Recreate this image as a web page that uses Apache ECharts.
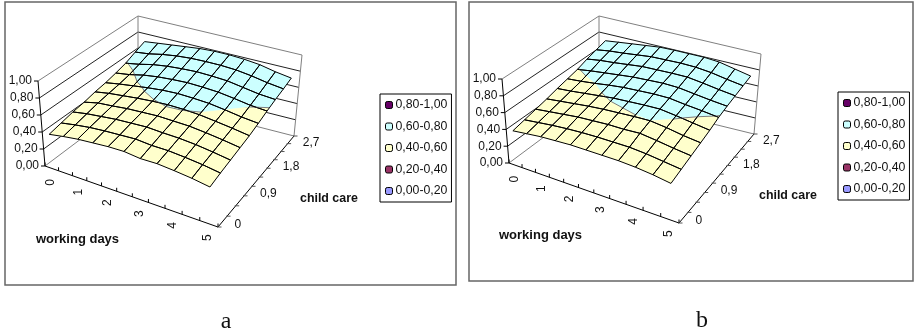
<!DOCTYPE html>
<html>
<head>
<meta charset="utf-8">
<style>html,body{margin:0;padding:0;background:#fff}#chart{width:914px;height:335px}</style>
<script src="https://cdn.jsdelivr.net/npm/echarts@6/dist/echarts.min.js"></script>
</head>
<body>
<div id="chart"></div>
<script>
// Axis categories and tick labels
const workingDays = ['0', '', '1', '', '2', '', '3', '', '4', '', '5'];
const childCare = ['0', '', '', '0,9', '', '', '1,8', '', '', '2,7'];
const valueTicks = [0, 0.2, 0.4, 0.6, 0.8, 1];
const valueLabels = ['0,00', '0,20', '0,40', '0,60', '0,80', '1,00'];
const bandLabels = ['0,80-1,00', '0,60-0,80', '0,40-0,60', '0,20-0,40', '0,00-0,20'];
const bandLimits = [[0.8, 1], [0.6, 0.8], [0.4, 0.6], [0.2, 0.4], [0, 0.2]];
const bandColors = ['#660066', '#CCFFFF', '#FFFFCC', '#993366', '#9999FF'];

// Surface heights: one list per working-days category, running along child care
const surfaceA = [
  [.40, .43, .46, .48, .51, .53, .56, .595, .65, .70],
  [.43, .46, .49, .52, .54, .56, .585, .625, .67, .72],
  [.455, .485, .51, .535, .56, .585, .625, .665, .705, .74],
  [.47, .50, .53, .555, .58, .61, .65, .69, .73, .76],
  [.485, .51, .54, .565, .595, .63, .665, .705, .745, .78],
  [.49, .52, .55, .575, .605, .64, .675, .715, .75, .79],
  [.47, .505, .54, .57, .603, .635, .67, .71, .75, .79],
  [.475, .505, .535, .565, .593, .625, .66, .70, .74, .78],
  [.46, .49, .52, .545, .57, .60, .635, .67, .715, .76],
  [.44, .47, .495, .52, .545, .57, .605, .64, .68, .72],
  [.41, .44, .465, .49, .515, .55, .59, .625, .655, .69]
];
const surfaceB = [
  [.41, .44, .47, .50, .535, .565, .595, .64, .675, .71],
  [.43, .46, .49, .52, .55, .58, .62, .665, .70, .73],
  [.45, .48, .51, .54, .57, .60, .64, .68, .715, .75],
  [.46, .495, .53, .56, .59, .625, .66, .70, .735, .77],
  [.47, .505, .54, .575, .61, .645, .68, .72, .755, .79],
  [.47, .51, .55, .585, .62, .655, .69, .725, .76, .795],
  [.47, .51, .55, .595, .63, .665, .70, .73, .765, .795],
  [.47, .51, .56, .60, .635, .665, .695, .73, .76, .795],
  [.46, .495, .535, .575, .61, .64, .67, .705, .74, .78],
  [.44, .47, .505, .54, .58, .62, .645, .675, .705, .74],
  [.41, .445, .48, .515, .55, .595, .625, .65, .675, .70]
];

// Unit square to quadrilateral perspective map
function quadMap(q) {
  const [p0, p1, p2, p3] = q;
  const dx1 = p1[0] - p2[0], dx2 = p3[0] - p2[0], sx = p0[0] - p1[0] + p2[0] - p3[0];
  const dy1 = p1[1] - p2[1], dy2 = p3[1] - p2[1], sy = p0[1] - p1[1] + p2[1] - p3[1];
  const d = dx1 * dy2 - dx2 * dy1;
  const g = (sx * dy2 - dx2 * sy) / d, h = (dx1 * sy - sx * dy1) / d;
  const a = p1[0] - p0[0] + g * p1[0], b = p3[0] - p0[0] + h * p3[0];
  const e = p1[1] - p0[1] + g * p1[1], f = p3[1] - p0[1] + h * p3[1];
  return (u, v) => {
    const w = g * u + h * v + 1;
    return [(a * u + b * v + p0[0]) / w, (e * u + f * v + p0[1]) / w];
  };
}

// A 3D box described by its floor and ceiling corners:
// front-left, front-right, back-right, back-left
function makeView(floor, top) {
  const fm = quadMap(floor), tm = quadMap(top);
  return (u, v, z) => {
    const a = fm(u, v), b = tm(u, v);
    return [a[0] + (b[0] - a[0]) * z, a[1] + (b[1] - a[1]) * z];
  };
}

const nX = workingDays.length, nY = childCare.length;
const TXT = 'Liberation Sans, Arial, sans-serif';
const GREY = '#808080';

function clipBand(poly, lo, hi) {
  const cut = (pts, keep, level) => {
    const out = [];
    pts.forEach((p, k) => {
      const q = pts[(k + 1) % pts.length];
      const pin = keep(p[2]), qin = keep(q[2]);
      if (pin) out.push(p);
      if (pin !== qin) {
        const t = (level - p[2]) / (q[2] - p[2]);
        out.push([p[0] + (q[0] - p[0]) * t, p[1] + (q[1] - p[1]) * t, level]);
      }
    });
    return out;
  };
  let r = cut(poly, z => z >= lo, lo);
  if (r.length) r = cut(r, z => z <= hi, hi);
  return r;
}

function panelSeries(view, surface) {
  // Working-days nodes sit mid-category; child-care nodes span the full depth
  const toX = i => (i + 0.5) / nX, toY = j => j / (nY - 1);
  const line = (api, a, b, stroke, width) => {
    const p = api.coord(a), q = api.coord(b);
    return { type: 'line', shape: { x1: p[0], y1: p[1], x2: q[0], y2: q[1] }, style: { stroke, lineWidth: width } };
  };
  const cells = [];
  for (let i = 0; i < nX - 1; i++) for (let j = 0; j < nY - 1; j++) cells.push([i, j]);
  const cellPoly = (i, j) => [
    [toX(i), toY(j), surface[i][j]],
    [toX(i + 1), toY(j), surface[i + 1][j]],
    [toX(i + 1), toY(j + 1), surface[i + 1][j + 1]],
    [toX(i), toY(j + 1), surface[i][j + 1]]
  ];
  const common = { type: 'custom', coordinateSystem: 'cartesian2d', silent: true, animation: false, clip: false };
  const out = [];

  // Side and back walls with their value gridlines
  out.push(Object.assign({}, common, {
    name: 'walls', z: 1,
    data: valueTicks.map((z, k) => [k, z]),
    renderItem(params, api) {
      const z = api.value(1), k = api.value(0);
      const c = (z === 1 || z === 0) ? GREY : '#222';
      const kids = [
        line(api, view(0, 0, z), view(0, 1, z), c, 1),
        line(api, view(0, 1, z), view(1, 1, z), c, 1)
      ];
      const a = view(0, 0, z);
      kids.push(line(api, a, [a[0] - 4, a[1]], '#000', 1));
      const p = api.coord([a[0] - 6, a[1]]);
      kids.push({ type: 'text', style: { x: p[0], y: p[1], text: valueLabels[k], fill: '#111', font: '12px ' + TXT, align: 'right', verticalAlign: 'middle' } });
      if (z === 1) {
        kids.push(line(api, view(0, 1, 0), view(0, 1, 1), GREY, 1));
        kids.push(line(api, view(1, 1, 0), view(1, 1, 1), GREY, 1));
        kids.push(line(api, view(0, 0, 0), view(0, 0, 1), '#000', 1));
        kids.push(line(api, view(0, 0, 0), view(1, 0, 0), '#000', 1));
        kids.push(line(api, view(1, 0, 0), view(1, 1, 0), '#000', 1));
      }
      return { type: 'group', children: kids };
    }
  }));

  // Working-days axis ticks and rotated labels
  out.push(Object.assign({}, common, {
    name: 'workingDaysAxis', z: 2,
    data: workingDays.concat(['']).map((s, k) => [k, k]),
    renderItem(params, api) {
      const k = api.value(0);
      const t = view(k / nX, 0, 0);
      const kids = [line(api, t, [t[0], t[1] - 3.5], '#000', 1)];
      if (k < nX && workingDays[k]) {
        const m = view((k + 0.5) / nX, 0, 0);
        const p = api.coord([m[0] - 1, m[1] + 14]);
        kids.push({
          type: 'text', x: p[0], y: p[1], rotation: Math.PI / 2,
          style: { x: 0, y: 0, text: workingDays[k], fill: '#111', font: '12px ' + TXT, align: 'center', verticalAlign: 'middle' }
        });
      }
      return { type: 'group', children: kids };
    }
  }));

  // Child-care axis ticks and labels
  out.push(Object.assign({}, common, {
    name: 'childCareAxis', z: 2,
    data: childCare.concat(['']).map((s, k) => [k, k]),
    renderItem(params, api) {
      const k = api.value(0);
      const t = view(1, k / nY, 0);
      const kids = [line(api, [t[0] - 1, t[1]], [t[0] + 3.5, t[1]], '#555', 1)];
      if (k < nY && childCare[k]) {
        const m = view(1, (k + 0.5) / nY, 0);
        const p = api.coord([m[0] + 12, m[1] + 3]);
        kids.push({ type: 'text', style: { x: p[0], y: p[1], text: childCare[k], fill: '#111', font: '12px ' + TXT, align: 'left', verticalAlign: 'middle' } });
      }
      return { type: 'group', children: kids };
    }
  }));

  // Filled value bands of the surface
  bandLabels.forEach((name, b) => {
    out.push(Object.assign({}, common, {
      name, z: 3,
      itemStyle: { color: bandColors[b] },
      data: cells,
      renderItem(params, api) {
        const poly = clipBand(cellPoly(api.value(0), api.value(1)), bandLimits[b][0], bandLimits[b][1]);
        if (poly.length < 3) return null;
        return {
          type: 'polygon',
          shape: { points: poly.map(p => api.coord(view(p[0], p[1], p[2]))) },
          style: { fill: bandColors[b], stroke: bandColors[b], lineWidth: 0.4 }
        };
      }
    }));
  });

  // Mesh lines and the boundary where the surface crosses a band limit
  out.push(Object.assign({}, common, {
    name: 'mesh', z: 4,
    data: cells,
    renderItem(params, api) {
      const poly = cellPoly(api.value(0), api.value(1));
      const kids = [{
        type: 'polygon',
        shape: { points: poly.map(p => api.coord(view(p[0], p[1], p[2]))) },
        style: { fill: 'none', stroke: '#000', lineWidth: 1 }
      }];
      const level = 0.6, hits = [];
      poly.forEach((p, k) => {
        const q = poly[(k + 1) % 4];
        if ((p[2] - level) * (q[2] - level) < 0) {
          const t = (level - p[2]) / (q[2] - p[2]);
          hits.push(view(p[0] + (q[0] - p[0]) * t, p[1] + (q[1] - p[1]) * t, level));
        }
      });
      if (hits.length === 2) kids.push(line(api, hits[0], hits[1], '#445', 0.7));
      return { type: 'group', children: kids };
    }
  }));
  return out;
}

const viewA = makeView([[45, 166], [218, 227], [294, 136], [138, 96]], [[38, 81], [221, 137], [302, 55], [138, 16]]);
const viewB = makeView([[509, 163], [679, 223], [754, 134], [599, 96]], [[502, 79], [682, 134], [761, 54], [599, 16]]);

const frame = (x, y, w, h) => ({
  type: 'rect', shape: { x, y, width: w, height: h },
  style: { fill: '#fff', stroke: '#666', lineWidth: 1.5 }, z: -1
});
const label = (x, y, text, size) => ({
  type: 'text', x, y,
  style: { text, fill: '#111', font: 'bold ' + size + 'px ' + TXT, align: 'left', verticalAlign: 'middle' }
});
const caption = (x, y, text) => ({
  type: 'text', x, y,
  style: { text, fill: '#111', font: '24px Liberation Serif, Times New Roman, serif', align: 'center', verticalAlign: 'bottom' }
});
const legendBox = (left, top) => ({
  orient: 'vertical', left, top, selectedMode: false,
  data: bandLabels, itemWidth: 7, itemHeight: 7, itemGap: 9.5, padding: [5, 4, 5, 5],
  borderColor: '#000', borderWidth: 1, backgroundColor: '#fff',
  itemStyle: { borderColor: '#000', borderWidth: 1 },
  textStyle: { fontFamily: TXT, fontSize: 12.3, color: '#111', padding: [0, 0, 0, -2] }
});

const chart = echarts.init(document.getElementById('chart'), null, { renderer: 'canvas' });
chart.setOption({
  animation: false,
  backgroundColor: '#fff',
  grid: { left: 0, top: 0, right: 0, bottom: 0 },
  xAxis: { type: 'value', min: 0, max: 914, show: false },
  yAxis: { type: 'value', min: 0, max: 335, inverse: true, show: false },
  legend: [legendBox(380, 94), legendBox(838, 92)],
  tooltip: { show: false },
  graphic: [
    frame(5, 2, 451, 283),
    frame(469, 2, 444, 279),
    label(36, 239, 'working days', 13),
    label(300, 199, 'child care', 12.4),
    label(499, 235, 'working days', 13),
    label(759, 196, 'child care', 12.4),
    caption(226, 334, 'a'),
    caption(702, 333, 'b')
  ],
  series: panelSeries(viewA, surfaceA).concat(panelSeries(viewB, surfaceB))
});
</script>
</body>
</html>
